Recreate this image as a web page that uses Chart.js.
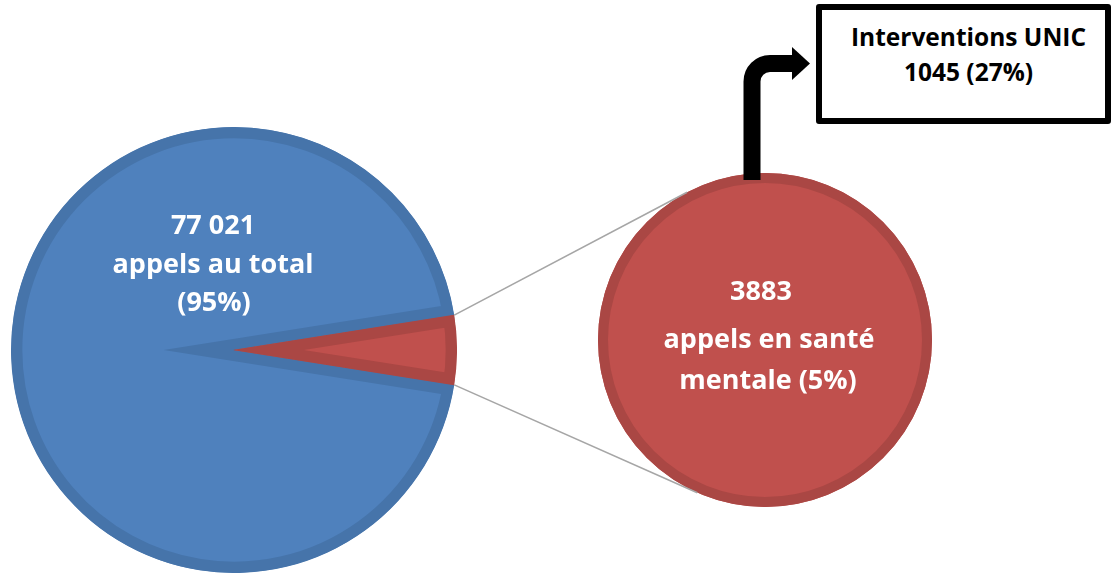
<!DOCTYPE html>
<html lang="fr">
<head>
<meta charset="utf-8">
<script src="https://cdn.jsdelivr.net/npm/chart.js@4.4.1/dist/chart.umd.min.js"></script>
<style>
  html, body { margin: 0; padding: 0; background: #fff; overflow: hidden; }
  body { width: 1111px; height: 574px; position: relative; font-family: "Open Sans", Lato, sans-serif; }
  #mainPie { position: absolute; left: 11px; top: 127px; }
  #subPie { position: absolute; left: 598px; top: 173px; }
  #overlay { position: absolute; left: 0; top: 0; pointer-events: none; }
  .lbl { position: absolute; color: #fff; font-weight: 700; font-size: 27px; line-height: 30px;
         white-space: nowrap; transform: translateX(-50%); text-align: center; }
  #box { position: absolute; left: 816px; top: 4px; width: 295px; height: 120px; box-sizing: border-box;
         border: 6px solid #000; border-radius: 3px; background: #fff; text-align: center;
         font-weight: 700; font-size: 24.5px; line-height: 35px; color: #000; padding: 9px 0 0 10px; }
</style>
</head>
<body>
<canvas id="mainPie" width="446" height="446"></canvas>
<canvas id="subPie" width="334" height="334"></canvas>
<canvas id="overlay" width="1111" height="574"></canvas>
<div id="box"></div>

<script>
  // données
  const totalCalls = 77021;      // appels au total
  const mentalCalls = 3883;      // appels en santé mentale
  const unicCalls = 1045;        // interventions UNIC
  const mainLabels = ["appels au total", "appels en santé mentale"];
  const mainShares = [95, 5];    // %
  const unicShare = 27;          // % des appels en santé mentale

  const fmt = (n) => String(n).replace(/\B(?=(\d{3})+(?!\d))/g, " ");

  const baseOptions = {
    responsive: false,
    animation: false,
    events: [],
    layout: { padding: 0 },
    plugins: { legend: { display: false }, tooltip: { enabled: false } },
  };

  // grand camembert (rotation : la part rouge pointe vers la droite)
  const mainChart = new Chart(document.getElementById("mainPie"), {
    type: "pie",
    data: {
      labels: mainLabels,
      datasets: [
        {
          data: mainShares,
          backgroundColor: ["#4F81BD", "#C0504D"],
          borderColor: ["#4674AA", "#AA4744"],
          borderWidth: 11,
          borderAlign: "inner",
          borderJoinStyle: "miter",
          hoverOffset: 0,
        },
      ],
    },
    options: { ...baseOptions, rotation: 90 + (mainShares[1] * 3.6) / 2 },
  });

  // anneau foncé intérieur du second camembert (sans trait radial)
  const ringPlugin = {
    id: "ring",
    afterDatasetsDraw(chart) {
      const a = chart.getDatasetMeta(0).data[0];
      const c = chart.ctx;
      c.save();
      c.strokeStyle = "#AA4744";
      c.lineWidth = 10;
      c.beginPath();
      c.arc(a.x, a.y, a.outerRadius - 5, 0, Math.PI * 2);
      c.stroke();
      c.restore();
    },
  };

  // second camembert : détail des appels en santé mentale
  const subChart = new Chart(document.getElementById("subPie"), {
    type: "pie",
    data: {
      labels: ["appels en santé mentale"],
      datasets: [
        {
          data: [mentalCalls],
          backgroundColor: ["#C0504D"],
          borderWidth: 0,
          hoverOffset: 0,
        },
      ],
    },
    options: baseOptions,
    plugins: [ringPlugin],
  });

  // libellés
  function addLabel(text, x, y) {
    const d = document.createElement("div");
    d.className = "lbl";
    d.textContent = text;
    d.style.left = x + "px";
    d.style.top = y - 15 + "px";
    document.body.appendChild(d);
  }
  const mArc = mainChart.getDatasetMeta(0).data[0];
  const mx = 11 + mArc.x, my = 127 + mArc.y;
  addLabel(fmt(totalCalls), mx - 21, my - 126);
  addLabel(mainLabels[0], mx - 21, my - 87);
  addLabel("(" + mainShares[0] + "%)", mx - 20, my - 49);

  const sArc = subChart.getDatasetMeta(0).data[0];
  const sx = 598 + sArc.x, sy = 173 + sArc.y;
  addLabel(String(mentalCalls), sx - 4, sy - 50);
  addLabel("appels en santé", sx + 4, sy - 2);
  addLabel("mentale (" + mainShares[1] + "%)", sx + 3, sy + 39);

  document.getElementById("box").innerHTML =
    "Interventions UNIC<br>" + unicCalls + " (" + unicShare + "%)";

  // lignes de liaison + flèche
  const ctx = document.getElementById("overlay").getContext("2d");
  const red = mainChart.getDatasetMeta(0).data[1];
  const R = red.outerRadius;
  const pTop = { x: mx + R * Math.cos(red.startAngle), y: my + R * Math.sin(red.startAngle) };
  const pBot = { x: mx + R * Math.cos(red.endAngle), y: my + R * Math.sin(red.endAngle) };
  const r2 = sArc.outerRadius;

  function tangent(p, sign) {
    const dx = sx - p.x, dy = sy - p.y;
    const d = Math.hypot(dx, dy);
    const a = Math.atan2(dy, dx) + sign * Math.asin(r2 / d);
    const L = Math.sqrt(d * d - r2 * r2);
    return { x: p.x + L * Math.cos(a), y: p.y + L * Math.sin(a) };
  }
  const tTop = tangent(pTop, -1), tBot = tangent(pBot, 1);
  ctx.strokeStyle = "#A6A6A6";
  ctx.lineWidth = 1.6;
  ctx.beginPath();
  ctx.moveTo(pTop.x, pTop.y); ctx.lineTo(tTop.x, tTop.y);
  ctx.moveTo(pBot.x, pBot.y); ctx.lineTo(tBot.x, tBot.y);
  ctx.stroke();

  // flèche vers la boîte
  const ax = sx - 13;
  ctx.strokeStyle = "#000";
  ctx.lineWidth = 17;
  ctx.lineCap = "butt";
  ctx.beginPath();
  ctx.moveTo(ax, sy - r2 + 7);
  ctx.lineTo(ax, 90);
  ctx.arcTo(ax, 63.5, ax + 30, 63.5, 18);
  ctx.lineTo(793, 63.5);
  ctx.stroke();
  ctx.fillStyle = "#000";
  ctx.beginPath();
  ctx.moveTo(792, 47);
  ctx.lineTo(810, 63.5);
  ctx.lineTo(792, 80);
  ctx.closePath();
  ctx.fill();
</script>
</body>
</html>
